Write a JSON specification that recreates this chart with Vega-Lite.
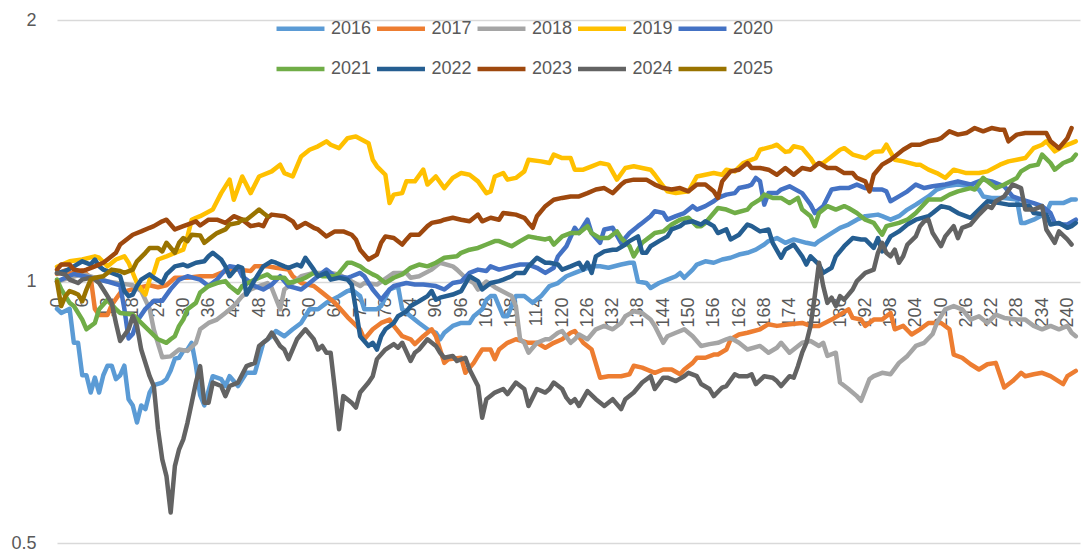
{
"$schema": "https://vega.github.io/schema/vega-lite/v6.json",
"width": 1023, "height": 523,
"autosize": {"type": "none"},
"padding": {"left": 57, "top": 20, "right": 6, "bottom": 8},
"background": "white",
"config": {"view": {"stroke": null}, "font": "Liberation Sans"},
"data": {"values": [
{"x":0,"s":"2016","v":0.93},{"x":1,"s":"2016","v":0.92},{"x":3,"s":"2016","v":0.93},{"x":4,"s":"2016","v":0.85},{"x":5,"s":"2016","v":0.85},{"x":6,"s":"2016","v":0.78},{"x":7,"s":"2016","v":0.78},{"x":8,"s":"2016","v":0.745},{"x":9,"s":"2016","v":0.775},{"x":10,"s":"2016","v":0.745},{"x":11,"s":"2016","v":0.78},{"x":12,"s":"2016","v":0.8},{"x":13,"s":"2016","v":0.8},{"x":14,"s":"2016","v":0.772},{"x":15,"s":"2016","v":0.78},{"x":16,"s":"2016","v":0.8},{"x":17,"s":"2016","v":0.732},{"x":18,"s":"2016","v":0.72},{"x":19,"s":"2016","v":0.688},{"x":20,"s":"2016","v":0.72},{"x":21,"s":"2016","v":0.713},{"x":22,"s":"2016","v":0.745},{"x":23,"s":"2016","v":0.76},{"x":25,"s":"2016","v":0.765},{"x":26,"s":"2016","v":0.772},{"x":27,"s":"2016","v":0.79},{"x":28,"s":"2016","v":0.815},{"x":29,"s":"2016","v":0.817},{"x":30,"s":"2016","v":0.832},{"x":31,"s":"2016","v":0.835},{"x":32,"s":"2016","v":0.85},{"x":33,"s":"2016","v":0.8},{"x":34,"s":"2016","v":0.74},{"x":35,"s":"2016","v":0.72},{"x":37,"s":"2016","v":0.778},{"x":39,"s":"2016","v":0.772},{"x":40,"s":"2016","v":0.758},{"x":41,"s":"2016","v":0.778},{"x":43,"s":"2016","v":0.758},{"x":45,"s":"2016","v":0.785},{"x":47,"s":"2016","v":0.785},{"x":49,"s":"2016","v":0.85},{"x":51,"s":"2016","v":0.865},{"x":52,"s":"2016","v":0.877},{"x":54,"s":"2016","v":0.865},{"x":56,"s":"2016","v":0.881},{"x":58,"s":"2016","v":0.896},{"x":60,"s":"2016","v":0.929},{"x":62,"s":"2016","v":0.929},{"x":64,"s":"2016","v":0.945},{"x":67,"s":"2016","v":0.962},{"x":69,"s":"2016","v":0.975},{"x":70,"s":"2016","v":0.979},{"x":72,"s":"2016","v":0.962},{"x":73,"s":"2016","v":0.929},{"x":76,"s":"2016","v":0.929},{"x":77,"s":"2016","v":0.937},{"x":79,"s":"2016","v":0.979},{"x":81,"s":"2016","v":0.988},{"x":82,"s":"2016","v":0.929},{"x":84,"s":"2016","v":0.912},{"x":86,"s":"2016","v":0.896},{"x":88,"s":"2016","v":0.881},{"x":90,"s":"2016","v":0.873},{"x":91,"s":"2016","v":0.858},{"x":92,"s":"2016","v":0.873},{"x":94,"s":"2016","v":0.889},{"x":96,"s":"2016","v":0.896},{"x":98,"s":"2016","v":0.896},{"x":99,"s":"2016","v":0.912},{"x":101,"s":"2016","v":0.929},{"x":102,"s":"2016","v":0.953},{"x":103,"s":"2016","v":0.962},{"x":104,"s":"2016","v":0.962},{"x":106,"s":"2016","v":0.912},{"x":107,"s":"2016","v":0.912},{"x":109,"s":"2016","v":0.962},{"x":111,"s":"2016","v":0.962},{"x":113,"s":"2016","v":0.945},{"x":115,"s":"2016","v":0.962},{"x":117,"s":"2016","v":0.988},{"x":119,"s":"2016","v":0.996},{"x":121,"s":"2016","v":1.014},{"x":123,"s":"2016","v":1.023},{"x":125,"s":"2016","v":1.032},{"x":127,"s":"2016","v":1.041},{"x":129,"s":"2016","v":1.041},{"x":131,"s":"2016","v":1.037},{"x":134,"s":"2016","v":1.046},{"x":136,"s":"2016","v":1.051},{"x":137,"s":"2016","v":1.051},{"x":138,"s":"2016","v":1.0},{"x":140,"s":"2016","v":0.996},{"x":141,"s":"2016","v":0.983},{"x":143,"s":"2016","v":0.996},{"x":145,"s":"2016","v":1.005},{"x":147,"s":"2016","v":1.014},{"x":148,"s":"2016","v":1.023},{"x":149,"s":"2016","v":1.01},{"x":151,"s":"2016","v":1.032},{"x":152,"s":"2016","v":1.046},{"x":154,"s":"2016","v":1.055},{"x":156,"s":"2016","v":1.051},{"x":158,"s":"2016","v":1.06},{"x":160,"s":"2016","v":1.065},{"x":162,"s":"2016","v":1.074},{"x":164,"s":"2016","v":1.079},{"x":166,"s":"2016","v":1.088},{"x":168,"s":"2016","v":1.103},{"x":169,"s":"2016","v":1.113},{"x":171,"s":"2016","v":1.122},{"x":173,"s":"2016","v":1.108},{"x":175,"s":"2016","v":1.118},{"x":178,"s":"2016","v":1.108},{"x":180,"s":"2016","v":1.103},{"x":181,"s":"2016","v":1.113},{"x":184,"s":"2016","v":1.137},{"x":186,"s":"2016","v":1.153},{"x":188,"s":"2016","v":1.163},{"x":190,"s":"2016","v":1.178},{"x":192,"s":"2016","v":1.189},{"x":195,"s":"2016","v":1.194},{"x":196,"s":"2016","v":1.189},{"x":198,"s":"2016","v":1.178},{"x":200,"s":"2016","v":1.189},{"x":202,"s":"2016","v":1.21},{"x":204,"s":"2016","v":1.226},{"x":207,"s":"2016","v":1.253},{"x":209,"s":"2016","v":1.276},{"x":211,"s":"2016","v":1.287},{"x":214,"s":"2016","v":1.293},{"x":217,"s":"2016","v":1.287},{"x":219,"s":"2016","v":1.276},{"x":220,"s":"2016","v":1.253},{"x":222,"s":"2016","v":1.248},{"x":225,"s":"2016","v":1.248},{"x":228,"s":"2016","v":1.243},{"x":229,"s":"2016","v":1.168},{"x":230,"s":"2016","v":1.168},{"x":232,"s":"2016","v":1.178},{"x":235,"s":"2016","v":1.199},{"x":236,"s":"2016","v":1.231},{"x":239,"s":"2016","v":1.231},{"x":241,"s":"2016","v":1.243},{"x":242,"s":"2016","v":1.243},
{"x":0,"s":"2017","v":1.02},{"x":2,"s":"2017","v":1.03},{"x":4,"s":"2017","v":1.02},{"x":6,"s":"2017","v":1.03},{"x":8,"s":"2017","v":1.01},{"x":9,"s":"2017","v":0.93},{"x":10,"s":"2017","v":0.915},{"x":12,"s":"2017","v":0.915},{"x":13,"s":"2017","v":0.94},{"x":15,"s":"2017","v":0.97},{"x":18,"s":"2017","v":0.98},{"x":22,"s":"2017","v":0.99},{"x":24,"s":"2017","v":0.985},{"x":26,"s":"2017","v":0.99},{"x":28,"s":"2017","v":1.01},{"x":31,"s":"2017","v":1.01},{"x":34,"s":"2017","v":1.014},{"x":37,"s":"2017","v":1.014},{"x":39,"s":"2017","v":1.023},{"x":41,"s":"2017","v":1.032},{"x":43,"s":"2017","v":1.032},{"x":46,"s":"2017","v":1.028},{"x":47,"s":"2017","v":1.041},{"x":50,"s":"2017","v":1.041},{"x":52,"s":"2017","v":1.037},{"x":55,"s":"2017","v":1.032},{"x":56,"s":"2017","v":1.014},{"x":58,"s":"2017","v":0.996},{"x":61,"s":"2017","v":0.988},{"x":63,"s":"2017","v":0.971},{"x":66,"s":"2017","v":0.945},{"x":69,"s":"2017","v":0.91},{"x":72,"s":"2017","v":0.881},{"x":73,"s":"2017","v":0.858},{"x":75,"s":"2017","v":0.881},{"x":77,"s":"2017","v":0.896},{"x":79,"s":"2017","v":0.904},{"x":80,"s":"2017","v":0.889},{"x":82,"s":"2017","v":0.865},{"x":84,"s":"2017","v":0.858},{"x":85,"s":"2017","v":0.847},{"x":87,"s":"2017","v":0.865},{"x":89,"s":"2017","v":0.881},{"x":90,"s":"2017","v":0.865},{"x":92,"s":"2017","v":0.806},{"x":93,"s":"2017","v":0.814},{"x":96,"s":"2017","v":0.817},{"x":97,"s":"2017","v":0.785},{"x":99,"s":"2017","v":0.806},{"x":100,"s":"2017","v":0.821},{"x":101,"s":"2017","v":0.835},{"x":103,"s":"2017","v":0.835},{"x":104,"s":"2017","v":0.814},{"x":105,"s":"2017","v":0.835},{"x":107,"s":"2017","v":0.85},{"x":109,"s":"2017","v":0.858},{"x":112,"s":"2017","v":0.85},{"x":114,"s":"2017","v":0.85},{"x":116,"s":"2017","v":0.839},{"x":118,"s":"2017","v":0.85},{"x":120,"s":"2017","v":0.858},{"x":122,"s":"2017","v":0.873},{"x":123,"s":"2017","v":0.877},{"x":125,"s":"2017","v":0.85},{"x":127,"s":"2017","v":0.835},{"x":129,"s":"2017","v":0.775},{"x":131,"s":"2017","v":0.778},{"x":134,"s":"2017","v":0.778},{"x":136,"s":"2017","v":0.782},{"x":137,"s":"2017","v":0.8},{"x":139,"s":"2017","v":0.796},{"x":142,"s":"2017","v":0.785},{"x":144,"s":"2017","v":0.792},{"x":146,"s":"2017","v":0.792},{"x":148,"s":"2017","v":0.782},{"x":149,"s":"2017","v":0.792},{"x":151,"s":"2017","v":0.806},{"x":152,"s":"2017","v":0.817},{"x":154,"s":"2017","v":0.817},{"x":156,"s":"2017","v":0.824},{"x":157,"s":"2017","v":0.824},{"x":159,"s":"2017","v":0.835},{"x":160,"s":"2017","v":0.858},{"x":162,"s":"2017","v":0.869},{"x":164,"s":"2017","v":0.873},{"x":167,"s":"2017","v":0.881},{"x":169,"s":"2017","v":0.893},{"x":171,"s":"2017","v":0.889},{"x":174,"s":"2017","v":0.893},{"x":177,"s":"2017","v":0.896},{"x":179,"s":"2017","v":0.889},{"x":181,"s":"2017","v":0.889},{"x":184,"s":"2017","v":0.904},{"x":186,"s":"2017","v":0.916},{"x":188,"s":"2017","v":0.929},{"x":189,"s":"2017","v":0.908},{"x":191,"s":"2017","v":0.904},{"x":192,"s":"2017","v":0.889},{"x":194,"s":"2017","v":0.904},{"x":196,"s":"2017","v":0.904},{"x":198,"s":"2017","v":0.92},{"x":199,"s":"2017","v":0.881},{"x":201,"s":"2017","v":0.889},{"x":203,"s":"2017","v":0.869},{"x":205,"s":"2017","v":0.881},{"x":207,"s":"2017","v":0.896},{"x":209,"s":"2017","v":0.896},{"x":210,"s":"2017","v":0.896},{"x":212,"s":"2017","v":0.881},{"x":213,"s":"2017","v":0.824},{"x":215,"s":"2017","v":0.817},{"x":217,"s":"2017","v":0.803},{"x":219,"s":"2017","v":0.792},{"x":221,"s":"2017","v":0.803},{"x":223,"s":"2017","v":0.806},{"x":225,"s":"2017","v":0.755},{"x":227,"s":"2017","v":0.768},{"x":229,"s":"2017","v":0.785},{"x":230,"s":"2017","v":0.778},{"x":232,"s":"2017","v":0.782},{"x":234,"s":"2017","v":0.785},{"x":236,"s":"2017","v":0.778},{"x":239,"s":"2017","v":0.762},{"x":240,"s":"2017","v":0.778},{"x":242,"s":"2017","v":0.789},
{"x":0,"s":"2018","v":1.0},{"x":3,"s":"2018","v":1.01},{"x":6,"s":"2018","v":1.02},{"x":9,"s":"2018","v":1.01},{"x":12,"s":"2018","v":1.0},{"x":15,"s":"2018","v":0.995},{"x":18,"s":"2018","v":0.99},{"x":20,"s":"2018","v":0.975},{"x":22,"s":"2018","v":0.93},{"x":23,"s":"2018","v":0.88},{"x":25,"s":"2018","v":0.818},{"x":27,"s":"2018","v":0.82},{"x":29,"s":"2018","v":0.835},{"x":31,"s":"2018","v":0.832},{"x":33,"s":"2018","v":0.85},{"x":34,"s":"2018","v":0.881},{"x":36,"s":"2018","v":0.896},{"x":38,"s":"2018","v":0.904},{"x":40,"s":"2018","v":0.92},{"x":42,"s":"2018","v":0.937},{"x":44,"s":"2018","v":0.962},{"x":46,"s":"2018","v":0.979},{"x":48,"s":"2018","v":0.988},{"x":50,"s":"2018","v":0.996},{"x":51,"s":"2018","v":0.983},{"x":53,"s":"2018","v":0.929},{"x":54,"s":"2018","v":0.979},{"x":56,"s":"2018","v":0.996},{"x":58,"s":"2018","v":1.014},{"x":61,"s":"2018","v":1.023},{"x":65,"s":"2018","v":1.023},{"x":67,"s":"2018","v":1.019},{"x":70,"s":"2018","v":1.0},{"x":72,"s":"2018","v":0.988},{"x":73,"s":"2018","v":0.996},{"x":76,"s":"2018","v":0.992},{"x":80,"s":"2018","v":1.023},{"x":83,"s":"2018","v":1.023},{"x":84,"s":"2018","v":1.01},{"x":86,"s":"2018","v":1.014},{"x":89,"s":"2018","v":1.032},{"x":91,"s":"2018","v":1.051},{"x":94,"s":"2018","v":1.041},{"x":95,"s":"2018","v":1.032},{"x":97,"s":"2018","v":1.01},{"x":99,"s":"2018","v":0.996},{"x":100,"s":"2018","v":0.979},{"x":102,"s":"2018","v":1.0},{"x":104,"s":"2018","v":0.985},{"x":105,"s":"2018","v":0.979},{"x":108,"s":"2018","v":0.962},{"x":109,"s":"2018","v":0.937},{"x":110,"s":"2018","v":0.858},{"x":111,"s":"2018","v":0.85},{"x":112,"s":"2018","v":0.828},{"x":114,"s":"2018","v":0.85},{"x":116,"s":"2018","v":0.858},{"x":117,"s":"2018","v":0.858},{"x":119,"s":"2018","v":0.873},{"x":120,"s":"2018","v":0.877},{"x":122,"s":"2018","v":0.85},{"x":123,"s":"2018","v":0.858},{"x":124,"s":"2018","v":0.869},{"x":126,"s":"2018","v":0.858},{"x":128,"s":"2018","v":0.881},{"x":130,"s":"2018","v":0.889},{"x":132,"s":"2018","v":0.881},{"x":134,"s":"2018","v":0.896},{"x":135,"s":"2018","v":0.912},{"x":137,"s":"2018","v":0.924},{"x":139,"s":"2018","v":0.92},{"x":141,"s":"2018","v":0.904},{"x":142,"s":"2018","v":0.889},{"x":144,"s":"2018","v":0.85},{"x":145,"s":"2018","v":0.865},{"x":147,"s":"2018","v":0.873},{"x":149,"s":"2018","v":0.881},{"x":151,"s":"2018","v":0.865},{"x":153,"s":"2018","v":0.843},{"x":155,"s":"2018","v":0.847},{"x":157,"s":"2018","v":0.85},{"x":159,"s":"2018","v":0.858},{"x":160,"s":"2018","v":0.861},{"x":162,"s":"2018","v":0.85},{"x":164,"s":"2018","v":0.835},{"x":167,"s":"2018","v":0.843},{"x":169,"s":"2018","v":0.828},{"x":171,"s":"2018","v":0.839},{"x":172,"s":"2018","v":0.85},{"x":174,"s":"2018","v":0.828},{"x":177,"s":"2018","v":0.85},{"x":179,"s":"2018","v":0.854},{"x":181,"s":"2018","v":0.843},{"x":182,"s":"2018","v":0.85},{"x":183,"s":"2018","v":0.821},{"x":185,"s":"2018","v":0.828},{"x":186,"s":"2018","v":0.765},{"x":188,"s":"2018","v":0.752},{"x":190,"s":"2018","v":0.738},{"x":191,"s":"2018","v":0.729},{"x":193,"s":"2018","v":0.772},{"x":194,"s":"2018","v":0.778},{"x":196,"s":"2018","v":0.785},{"x":198,"s":"2018","v":0.782},{"x":200,"s":"2018","v":0.806},{"x":202,"s":"2018","v":0.821},{"x":204,"s":"2018","v":0.843},{"x":206,"s":"2018","v":0.85},{"x":208,"s":"2018","v":0.87},{"x":209,"s":"2018","v":0.896},{"x":211,"s":"2018","v":0.929},{"x":213,"s":"2018","v":0.937},{"x":215,"s":"2018","v":0.929},{"x":217,"s":"2018","v":0.904},{"x":219,"s":"2018","v":0.912},{"x":221,"s":"2018","v":0.896},{"x":223,"s":"2018","v":0.916},{"x":225,"s":"2018","v":0.908},{"x":228,"s":"2018","v":0.904},{"x":230,"s":"2018","v":0.904},{"x":232,"s":"2018","v":0.889},{"x":234,"s":"2018","v":0.881},{"x":236,"s":"2018","v":0.889},{"x":238,"s":"2018","v":0.881},{"x":240,"s":"2018","v":0.889},{"x":241,"s":"2018","v":0.873},{"x":242,"s":"2018","v":0.865},
{"x":0,"s":"2019","v":1.04},{"x":3,"s":"2019","v":1.055},{"x":6,"s":"2019","v":1.06},{"x":9,"s":"2019","v":1.069},{"x":10,"s":"2019","v":1.065},{"x":12,"s":"2019","v":1.041},{"x":14,"s":"2019","v":1.06},{"x":16,"s":"2019","v":1.069},{"x":17,"s":"2019","v":1.051},{"x":19,"s":"2019","v":0.996},{"x":20,"s":"2019","v":0.979},{"x":21,"s":"2019","v":0.966},{"x":22,"s":"2019","v":1.005},{"x":23,"s":"2019","v":1.023},{"x":24,"s":"2019","v":1.06},{"x":26,"s":"2019","v":1.069},{"x":28,"s":"2019","v":1.079},{"x":30,"s":"2019","v":1.088},{"x":31,"s":"2019","v":1.127},{"x":32,"s":"2019","v":1.178},{"x":33,"s":"2019","v":1.184},{"x":34,"s":"2019","v":1.189},{"x":37,"s":"2019","v":1.21},{"x":39,"s":"2019","v":1.264},{"x":41,"s":"2019","v":1.31},{"x":42,"s":"2019","v":1.242},{"x":44,"s":"2019","v":1.321},{"x":46,"s":"2019","v":1.264},{"x":48,"s":"2019","v":1.321},{"x":51,"s":"2019","v":1.339},{"x":53,"s":"2019","v":1.363},{"x":54,"s":"2019","v":1.333},{"x":56,"s":"2019","v":1.321},{"x":58,"s":"2019","v":1.393},{"x":60,"s":"2019","v":1.418},{"x":62,"s":"2019","v":1.431},{"x":64,"s":"2019","v":1.45},{"x":65,"s":"2019","v":1.437},{"x":67,"s":"2019","v":1.424},{"x":69,"s":"2019","v":1.462},{"x":71,"s":"2019","v":1.469},{"x":74,"s":"2019","v":1.443},{"x":75,"s":"2019","v":1.381},{"x":76,"s":"2019","v":1.357},{"x":78,"s":"2019","v":1.327},{"x":79,"s":"2019","v":1.231},{"x":80,"s":"2019","v":1.259},{"x":82,"s":"2019","v":1.264},{"x":83,"s":"2019","v":1.304},{"x":85,"s":"2019","v":1.304},{"x":87,"s":"2019","v":1.345},{"x":88,"s":"2019","v":1.293},{"x":90,"s":"2019","v":1.321},{"x":92,"s":"2019","v":1.281},{"x":94,"s":"2019","v":1.316},{"x":96,"s":"2019","v":1.333},{"x":98,"s":"2019","v":1.327},{"x":100,"s":"2019","v":1.304},{"x":102,"s":"2019","v":1.264},{"x":103,"s":"2019","v":1.27},{"x":104,"s":"2019","v":1.321},{"x":106,"s":"2019","v":1.333},{"x":107,"s":"2019","v":1.31},{"x":109,"s":"2019","v":1.316},{"x":111,"s":"2019","v":1.339},{"x":112,"s":"2019","v":1.381},{"x":115,"s":"2019","v":1.375},{"x":117,"s":"2019","v":1.369},{"x":118,"s":"2019","v":1.4},{"x":120,"s":"2019","v":1.387},{"x":122,"s":"2019","v":1.387},{"x":123,"s":"2019","v":1.345},{"x":125,"s":"2019","v":1.345},{"x":127,"s":"2019","v":1.357},{"x":129,"s":"2019","v":1.369},{"x":131,"s":"2019","v":1.363},{"x":133,"s":"2019","v":1.31},{"x":135,"s":"2019","v":1.351},{"x":137,"s":"2019","v":1.357},{"x":139,"s":"2019","v":1.351},{"x":141,"s":"2019","v":1.345},{"x":142,"s":"2019","v":1.327},{"x":144,"s":"2019","v":1.287},{"x":145,"s":"2019","v":1.27},{"x":147,"s":"2019","v":1.264},{"x":150,"s":"2019","v":1.27},{"x":152,"s":"2019","v":1.321},{"x":154,"s":"2019","v":1.327},{"x":156,"s":"2019","v":1.333},{"x":158,"s":"2019","v":1.327},{"x":159,"s":"2019","v":1.345},{"x":161,"s":"2019","v":1.339},{"x":163,"s":"2019","v":1.369},{"x":166,"s":"2019","v":1.387},{"x":167,"s":"2019","v":1.418},{"x":170,"s":"2019","v":1.431},{"x":171,"s":"2019","v":1.437},{"x":173,"s":"2019","v":1.41},{"x":174,"s":"2019","v":1.412},{"x":175,"s":"2019","v":1.431},{"x":177,"s":"2019","v":1.424},{"x":179,"s":"2019","v":1.387},{"x":180,"s":"2019","v":1.363},{"x":182,"s":"2019","v":1.369},{"x":184,"s":"2019","v":1.393},{"x":186,"s":"2019","v":1.418},{"x":187,"s":"2019","v":1.424},{"x":189,"s":"2019","v":1.4},{"x":192,"s":"2019","v":1.387},{"x":194,"s":"2019","v":1.41},{"x":196,"s":"2019","v":1.412},{"x":197,"s":"2019","v":1.437},{"x":199,"s":"2019","v":1.381},{"x":201,"s":"2019","v":1.375},{"x":204,"s":"2019","v":1.363},{"x":205,"s":"2019","v":1.363},{"x":207,"s":"2019","v":1.345},{"x":209,"s":"2019","v":1.333},{"x":211,"s":"2019","v":1.316},{"x":213,"s":"2019","v":1.345},{"x":216,"s":"2019","v":1.333},{"x":219,"s":"2019","v":1.333},{"x":221,"s":"2019","v":1.339},{"x":224,"s":"2019","v":1.363},{"x":226,"s":"2019","v":1.375},{"x":228,"s":"2019","v":1.381},{"x":230,"s":"2019","v":1.387},{"x":232,"s":"2019","v":1.424},{"x":234,"s":"2019","v":1.437},{"x":235,"s":"2019","v":1.45},{"x":237,"s":"2019","v":1.412},{"x":239,"s":"2019","v":1.431},{"x":241,"s":"2019","v":1.443},{"x":242,"s":"2019","v":1.45},
{"x":0,"s":"2020","v":1.0},{"x":4,"s":"2020","v":1.02},{"x":8,"s":"2020","v":1.01},{"x":12,"s":"2020","v":1.0},{"x":15,"s":"2020","v":0.99},{"x":16,"s":"2020","v":0.93},{"x":17,"s":"2020","v":0.86},{"x":18,"s":"2020","v":0.87},{"x":19,"s":"2020","v":0.9},{"x":21,"s":"2020","v":0.93},{"x":23,"s":"2020","v":0.95},{"x":25,"s":"2020","v":0.95},{"x":27,"s":"2020","v":0.98},{"x":29,"s":"2020","v":1.005},{"x":31,"s":"2020","v":1.014},{"x":34,"s":"2020","v":1.005},{"x":36,"s":"2020","v":0.988},{"x":38,"s":"2020","v":1.005},{"x":40,"s":"2020","v":1.032},{"x":41,"s":"2020","v":1.041},{"x":43,"s":"2020","v":1.037},{"x":44,"s":"2020","v":1.014},{"x":47,"s":"2020","v":0.988},{"x":49,"s":"2020","v":0.979},{"x":51,"s":"2020","v":0.992},{"x":53,"s":"2020","v":1.014},{"x":55,"s":"2020","v":0.988},{"x":58,"s":"2020","v":0.979},{"x":60,"s":"2020","v":0.996},{"x":62,"s":"2020","v":1.014},{"x":64,"s":"2020","v":1.032},{"x":66,"s":"2020","v":1.014},{"x":69,"s":"2020","v":1.01},{"x":70,"s":"2020","v":1.014},{"x":72,"s":"2020","v":1.023},{"x":73,"s":"2020","v":1.014},{"x":75,"s":"2020","v":0.979},{"x":77,"s":"2020","v":0.953},{"x":79,"s":"2020","v":0.979},{"x":80,"s":"2020","v":0.988},{"x":83,"s":"2020","v":0.996},{"x":85,"s":"2020","v":0.992},{"x":87,"s":"2020","v":0.992},{"x":90,"s":"2020","v":0.988},{"x":92,"s":"2020","v":0.979},{"x":94,"s":"2020","v":0.996},{"x":96,"s":"2020","v":1.0},{"x":98,"s":"2020","v":1.023},{"x":100,"s":"2020","v":1.032},{"x":102,"s":"2020","v":1.028},{"x":103,"s":"2020","v":1.041},{"x":105,"s":"2020","v":1.032},{"x":108,"s":"2020","v":1.041},{"x":110,"s":"2020","v":1.046},{"x":112,"s":"2020","v":1.046},{"x":114,"s":"2020","v":1.037},{"x":116,"s":"2020","v":1.023},{"x":118,"s":"2020","v":1.037},{"x":119,"s":"2020","v":1.069},{"x":121,"s":"2020","v":1.098},{"x":123,"s":"2020","v":1.153},{"x":124,"s":"2020","v":1.137},{"x":126,"s":"2020","v":1.178},{"x":127,"s":"2020","v":1.137},{"x":129,"s":"2020","v":1.108},{"x":130,"s":"2020","v":1.148},{"x":132,"s":"2020","v":1.153},{"x":134,"s":"2020","v":1.108},{"x":136,"s":"2020","v":1.137},{"x":138,"s":"2020","v":1.158},{"x":139,"s":"2020","v":1.168},{"x":141,"s":"2020","v":1.189},{"x":142,"s":"2020","v":1.205},{"x":144,"s":"2020","v":1.199},{"x":145,"s":"2020","v":1.178},{"x":147,"s":"2020","v":1.189},{"x":149,"s":"2020","v":1.199},{"x":151,"s":"2020","v":1.221},{"x":152,"s":"2020","v":1.21},{"x":154,"s":"2020","v":1.221},{"x":156,"s":"2020","v":1.237},{"x":157,"s":"2020","v":1.248},{"x":159,"s":"2020","v":1.259},{"x":161,"s":"2020","v":1.264},{"x":162,"s":"2020","v":1.281},{"x":164,"s":"2020","v":1.287},{"x":165,"s":"2020","v":1.293},{"x":166,"s":"2020","v":1.316},{"x":167,"s":"2020","v":1.304},{"x":168,"s":"2020","v":1.226},{"x":169,"s":"2020","v":1.264},{"x":171,"s":"2020","v":1.264},{"x":172,"s":"2020","v":1.276},{"x":174,"s":"2020","v":1.287},{"x":177,"s":"2020","v":1.264},{"x":179,"s":"2020","v":1.226},{"x":180,"s":"2020","v":1.199},{"x":182,"s":"2020","v":1.221},{"x":184,"s":"2020","v":1.276},{"x":186,"s":"2020","v":1.281},{"x":188,"s":"2020","v":1.281},{"x":190,"s":"2020","v":1.293},{"x":192,"s":"2020","v":1.281},{"x":194,"s":"2020","v":1.276},{"x":196,"s":"2020","v":1.276},{"x":197,"s":"2020","v":1.27},{"x":198,"s":"2020","v":1.237},{"x":200,"s":"2020","v":1.253},{"x":202,"s":"2020","v":1.27},{"x":204,"s":"2020","v":1.293},{"x":206,"s":"2020","v":1.281},{"x":208,"s":"2020","v":1.287},{"x":211,"s":"2020","v":1.293},{"x":214,"s":"2020","v":1.304},{"x":217,"s":"2020","v":1.293},{"x":220,"s":"2020","v":1.31},{"x":222,"s":"2020","v":1.304},{"x":225,"s":"2020","v":1.287},{"x":227,"s":"2020","v":1.253},{"x":229,"s":"2020","v":1.243},{"x":232,"s":"2020","v":1.231},{"x":234,"s":"2020","v":1.221},{"x":236,"s":"2020","v":1.199},{"x":237,"s":"2020","v":1.168},{"x":239,"s":"2020","v":1.163},{"x":240,"s":"2020","v":1.163},{"x":242,"s":"2020","v":1.178},
{"x":0,"s":"2021","v":1.005},{"x":1,"s":"2021","v":0.98},{"x":3,"s":"2021","v":0.945},{"x":4,"s":"2021","v":0.937},{"x":6,"s":"2021","v":0.904},{"x":7,"s":"2021","v":0.881},{"x":9,"s":"2021","v":0.896},{"x":10,"s":"2021","v":0.929},{"x":12,"s":"2021","v":0.953},{"x":14,"s":"2021","v":0.929},{"x":15,"s":"2021","v":0.92},{"x":18,"s":"2021","v":0.916},{"x":20,"s":"2021","v":0.896},{"x":22,"s":"2021","v":0.877},{"x":24,"s":"2021","v":0.858},{"x":26,"s":"2021","v":0.85},{"x":27,"s":"2021","v":0.858},{"x":28,"s":"2021","v":0.865},{"x":29,"s":"2021","v":0.889},{"x":30,"s":"2021","v":0.904},{"x":31,"s":"2021","v":0.929},{"x":33,"s":"2021","v":0.945},{"x":34,"s":"2021","v":0.971},{"x":36,"s":"2021","v":0.988},{"x":38,"s":"2021","v":0.996},{"x":40,"s":"2021","v":1.001},{"x":41,"s":"2021","v":0.988},{"x":43,"s":"2021","v":0.971},{"x":44,"s":"2021","v":0.988},{"x":47,"s":"2021","v":1.005},{"x":48,"s":"2021","v":1.01},{"x":50,"s":"2021","v":1.019},{"x":51,"s":"2021","v":1.01},{"x":54,"s":"2021","v":1.01},{"x":55,"s":"2021","v":0.996},{"x":58,"s":"2021","v":1.005},{"x":59,"s":"2021","v":1.01},{"x":61,"s":"2021","v":1.023},{"x":63,"s":"2021","v":1.014},{"x":66,"s":"2021","v":1.014},{"x":67,"s":"2021","v":1.023},{"x":69,"s":"2021","v":1.051},{"x":70,"s":"2021","v":1.051},{"x":72,"s":"2021","v":1.041},{"x":73,"s":"2021","v":1.032},{"x":75,"s":"2021","v":1.019},{"x":76,"s":"2021","v":1.014},{"x":78,"s":"2021","v":0.996},{"x":80,"s":"2021","v":1.01},{"x":82,"s":"2021","v":1.019},{"x":84,"s":"2021","v":1.037},{"x":86,"s":"2021","v":1.046},{"x":88,"s":"2021","v":1.041},{"x":90,"s":"2021","v":1.051},{"x":92,"s":"2021","v":1.065},{"x":95,"s":"2021","v":1.069},{"x":96,"s":"2021","v":1.079},{"x":98,"s":"2021","v":1.088},{"x":100,"s":"2021","v":1.093},{"x":102,"s":"2021","v":1.103},{"x":104,"s":"2021","v":1.113},{"x":105,"s":"2021","v":1.113},{"x":108,"s":"2021","v":1.098},{"x":110,"s":"2021","v":1.113},{"x":112,"s":"2021","v":1.127},{"x":114,"s":"2021","v":1.122},{"x":116,"s":"2021","v":1.118},{"x":117,"s":"2021","v":1.122},{"x":118,"s":"2021","v":1.103},{"x":120,"s":"2021","v":1.127},{"x":122,"s":"2021","v":1.137},{"x":124,"s":"2021","v":1.137},{"x":126,"s":"2021","v":1.158},{"x":127,"s":"2021","v":1.137},{"x":129,"s":"2021","v":1.122},{"x":131,"s":"2021","v":1.122},{"x":133,"s":"2021","v":1.142},{"x":134,"s":"2021","v":1.122},{"x":136,"s":"2021","v":1.098},{"x":137,"s":"2021","v":1.069},{"x":139,"s":"2021","v":1.108},{"x":141,"s":"2021","v":1.127},{"x":142,"s":"2021","v":1.137},{"x":144,"s":"2021","v":1.142},{"x":146,"s":"2021","v":1.163},{"x":148,"s":"2021","v":1.178},{"x":150,"s":"2021","v":1.184},{"x":152,"s":"2021","v":1.158},{"x":153,"s":"2021","v":1.158},{"x":154,"s":"2021","v":1.168},{"x":156,"s":"2021","v":1.199},{"x":157,"s":"2021","v":1.215},{"x":159,"s":"2021","v":1.21},{"x":161,"s":"2021","v":1.199},{"x":164,"s":"2021","v":1.21},{"x":165,"s":"2021","v":1.226},{"x":167,"s":"2021","v":1.243},{"x":168,"s":"2021","v":1.259},{"x":170,"s":"2021","v":1.248},{"x":172,"s":"2021","v":1.248},{"x":174,"s":"2021","v":1.231},{"x":176,"s":"2021","v":1.248},{"x":177,"s":"2021","v":1.21},{"x":179,"s":"2021","v":1.189},{"x":180,"s":"2021","v":1.158},{"x":181,"s":"2021","v":1.199},{"x":183,"s":"2021","v":1.221},{"x":185,"s":"2021","v":1.21},{"x":187,"s":"2021","v":1.221},{"x":188,"s":"2021","v":1.215},{"x":190,"s":"2021","v":1.199},{"x":192,"s":"2021","v":1.178},{"x":194,"s":"2021","v":1.168},{"x":196,"s":"2021","v":1.132},{"x":197,"s":"2021","v":1.158},{"x":200,"s":"2021","v":1.168},{"x":202,"s":"2021","v":1.178},{"x":204,"s":"2021","v":1.199},{"x":207,"s":"2021","v":1.243},{"x":210,"s":"2021","v":1.243},{"x":212,"s":"2021","v":1.259},{"x":214,"s":"2021","v":1.27},{"x":217,"s":"2021","v":1.281},{"x":218,"s":"2021","v":1.276},{"x":220,"s":"2021","v":1.316},{"x":221,"s":"2021","v":1.304},{"x":223,"s":"2021","v":1.281},{"x":225,"s":"2021","v":1.293},{"x":228,"s":"2021","v":1.316},{"x":229,"s":"2021","v":1.339},{"x":231,"s":"2021","v":1.357},{"x":233,"s":"2021","v":1.363},{"x":234,"s":"2021","v":1.4},{"x":236,"s":"2021","v":1.369},{"x":237,"s":"2021","v":1.345},{"x":239,"s":"2021","v":1.369},{"x":241,"s":"2021","v":1.381},{"x":242,"s":"2021","v":1.4},
{"x":0,"s":"2022","v":1.023},{"x":2,"s":"2022","v":1.028},{"x":4,"s":"2022","v":1.041},{"x":6,"s":"2022","v":1.055},{"x":8,"s":"2022","v":1.046},{"x":9,"s":"2022","v":1.06},{"x":10,"s":"2022","v":1.041},{"x":11,"s":"2022","v":1.032},{"x":13,"s":"2022","v":1.023},{"x":15,"s":"2022","v":1.014},{"x":16,"s":"2022","v":0.975},{"x":17,"s":"2022","v":0.962},{"x":18,"s":"2022","v":0.966},{"x":19,"s":"2022","v":0.988},{"x":20,"s":"2022","v":1.005},{"x":22,"s":"2022","v":1.019},{"x":23,"s":"2022","v":1.01},{"x":25,"s":"2022","v":0.996},{"x":26,"s":"2022","v":1.019},{"x":28,"s":"2022","v":1.041},{"x":30,"s":"2022","v":1.046},{"x":31,"s":"2022","v":1.041},{"x":33,"s":"2022","v":1.051},{"x":35,"s":"2022","v":1.055},{"x":36,"s":"2022","v":1.069},{"x":37,"s":"2022","v":1.079},{"x":39,"s":"2022","v":1.06},{"x":40,"s":"2022","v":1.041},{"x":41,"s":"2022","v":1.014},{"x":43,"s":"2022","v":1.041},{"x":44,"s":"2022","v":1.037},{"x":45,"s":"2022","v":0.966},{"x":47,"s":"2022","v":1.005},{"x":49,"s":"2022","v":1.041},{"x":51,"s":"2022","v":1.055},{"x":52,"s":"2022","v":1.051},{"x":54,"s":"2022","v":1.041},{"x":55,"s":"2022","v":1.037},{"x":57,"s":"2022","v":1.046},{"x":58,"s":"2022","v":1.041},{"x":59,"s":"2022","v":1.065},{"x":61,"s":"2022","v":1.032},{"x":62,"s":"2022","v":1.014},{"x":64,"s":"2022","v":1.023},{"x":65,"s":"2022","v":1.005},{"x":67,"s":"2022","v":1.01},{"x":69,"s":"2022","v":1.005},{"x":70,"s":"2022","v":0.992},{"x":71,"s":"2022","v":0.929},{"x":72,"s":"2022","v":0.865},{"x":74,"s":"2022","v":0.843},{"x":75,"s":"2022","v":0.85},{"x":76,"s":"2022","v":0.835},{"x":77,"s":"2022","v":0.865},{"x":78,"s":"2022","v":0.881},{"x":80,"s":"2022","v":0.896},{"x":81,"s":"2022","v":0.912},{"x":83,"s":"2022","v":0.924},{"x":84,"s":"2022","v":0.937},{"x":86,"s":"2022","v":0.949},{"x":88,"s":"2022","v":0.962},{"x":89,"s":"2022","v":0.975},{"x":90,"s":"2022","v":0.953},{"x":91,"s":"2022","v":0.958},{"x":94,"s":"2022","v":0.966},{"x":96,"s":"2022","v":0.975},{"x":98,"s":"2022","v":1.014},{"x":100,"s":"2022","v":1.001},{"x":101,"s":"2022","v":0.979},{"x":103,"s":"2022","v":0.996},{"x":105,"s":"2022","v":1.001},{"x":106,"s":"2022","v":1.005},{"x":108,"s":"2022","v":1.014},{"x":109,"s":"2022","v":1.023},{"x":111,"s":"2022","v":1.023},{"x":112,"s":"2022","v":1.041},{"x":114,"s":"2022","v":1.065},{"x":116,"s":"2022","v":1.051},{"x":117,"s":"2022","v":1.051},{"x":119,"s":"2022","v":1.046},{"x":120,"s":"2022","v":1.032},{"x":122,"s":"2022","v":1.041},{"x":124,"s":"2022","v":1.051},{"x":125,"s":"2022","v":1.032},{"x":126,"s":"2022","v":1.051},{"x":127,"s":"2022","v":1.023},{"x":128,"s":"2022","v":1.069},{"x":130,"s":"2022","v":1.083},{"x":132,"s":"2022","v":1.088},{"x":133,"s":"2022","v":1.088},{"x":135,"s":"2022","v":1.103},{"x":136,"s":"2022","v":1.113},{"x":138,"s":"2022","v":1.127},{"x":139,"s":"2022","v":1.079},{"x":140,"s":"2022","v":1.079},{"x":141,"s":"2022","v":1.098},{"x":143,"s":"2022","v":1.113},{"x":145,"s":"2022","v":1.127},{"x":146,"s":"2022","v":1.148},{"x":148,"s":"2022","v":1.158},{"x":149,"s":"2022","v":1.168},{"x":151,"s":"2022","v":1.173},{"x":153,"s":"2022","v":1.163},{"x":154,"s":"2022","v":1.173},{"x":156,"s":"2022","v":1.158},{"x":157,"s":"2022","v":1.137},{"x":159,"s":"2022","v":1.148},{"x":160,"s":"2022","v":1.118},{"x":162,"s":"2022","v":1.132},{"x":164,"s":"2022","v":1.163},{"x":165,"s":"2022","v":1.158},{"x":167,"s":"2022","v":1.142},{"x":169,"s":"2022","v":1.148},{"x":170,"s":"2022","v":1.108},{"x":172,"s":"2022","v":1.065},{"x":173,"s":"2022","v":1.088},{"x":175,"s":"2022","v":1.103},{"x":177,"s":"2022","v":1.069},{"x":178,"s":"2022","v":1.046},{"x":179,"s":"2022","v":1.069},{"x":181,"s":"2022","v":1.046},{"x":182,"s":"2022","v":1.023},{"x":184,"s":"2022","v":1.037},{"x":185,"s":"2022","v":1.069},{"x":187,"s":"2022","v":1.098},{"x":189,"s":"2022","v":1.122},{"x":191,"s":"2022","v":1.118},{"x":192,"s":"2022","v":1.118},{"x":194,"s":"2022","v":1.093},{"x":195,"s":"2022","v":1.122},{"x":196,"s":"2022","v":1.083},{"x":198,"s":"2022","v":1.127},{"x":200,"s":"2022","v":1.142},{"x":202,"s":"2022","v":1.163},{"x":204,"s":"2022","v":1.178},{"x":207,"s":"2022","v":1.189},{"x":208,"s":"2022","v":1.199},{"x":210,"s":"2022","v":1.221},{"x":212,"s":"2022","v":1.215},{"x":214,"s":"2022","v":1.199},{"x":217,"s":"2022","v":1.184},{"x":219,"s":"2022","v":1.21},{"x":221,"s":"2022","v":1.237},{"x":224,"s":"2022","v":1.231},{"x":226,"s":"2022","v":1.226},{"x":229,"s":"2022","v":1.226},{"x":231,"s":"2022","v":1.221},{"x":232,"s":"2022","v":1.199},{"x":235,"s":"2022","v":1.194},{"x":236,"s":"2022","v":1.163},{"x":238,"s":"2022","v":1.168},{"x":240,"s":"2022","v":1.153},{"x":241,"s":"2022","v":1.158},{"x":242,"s":"2022","v":1.168},
{"x":0,"s":"2023","v":1.032},{"x":1,"s":"2023","v":1.046},{"x":3,"s":"2023","v":1.046},{"x":4,"s":"2023","v":1.032},{"x":6,"s":"2023","v":1.028},{"x":7,"s":"2023","v":1.032},{"x":9,"s":"2023","v":1.041},{"x":11,"s":"2023","v":1.051},{"x":12,"s":"2023","v":1.06},{"x":14,"s":"2023","v":1.079},{"x":15,"s":"2023","v":1.103},{"x":17,"s":"2023","v":1.122},{"x":18,"s":"2023","v":1.132},{"x":20,"s":"2023","v":1.142},{"x":22,"s":"2023","v":1.153},{"x":23,"s":"2023","v":1.158},{"x":25,"s":"2023","v":1.173},{"x":26,"s":"2023","v":1.178},{"x":28,"s":"2023","v":1.148},{"x":30,"s":"2023","v":1.158},{"x":31,"s":"2023","v":1.163},{"x":33,"s":"2023","v":1.173},{"x":34,"s":"2023","v":1.16},{"x":36,"s":"2023","v":1.178},{"x":38,"s":"2023","v":1.178},{"x":40,"s":"2023","v":1.168},{"x":42,"s":"2023","v":1.189},{"x":44,"s":"2023","v":1.178},{"x":46,"s":"2023","v":1.158},{"x":48,"s":"2023","v":1.163},{"x":49,"s":"2023","v":1.158},{"x":50,"s":"2023","v":1.184},{"x":51,"s":"2023","v":1.194},{"x":54,"s":"2023","v":1.189},{"x":56,"s":"2023","v":1.173},{"x":57,"s":"2023","v":1.153},{"x":59,"s":"2023","v":1.168},{"x":61,"s":"2023","v":1.153},{"x":62,"s":"2023","v":1.148},{"x":64,"s":"2023","v":1.127},{"x":66,"s":"2023","v":1.142},{"x":68,"s":"2023","v":1.142},{"x":70,"s":"2023","v":1.132},{"x":71,"s":"2023","v":1.118},{"x":72,"s":"2023","v":1.088},{"x":74,"s":"2023","v":1.06},{"x":76,"s":"2023","v":1.074},{"x":77,"s":"2023","v":1.108},{"x":78,"s":"2023","v":1.127},{"x":80,"s":"2023","v":1.122},{"x":82,"s":"2023","v":1.103},{"x":83,"s":"2023","v":1.118},{"x":84,"s":"2023","v":1.132},{"x":86,"s":"2023","v":1.132},{"x":88,"s":"2023","v":1.158},{"x":89,"s":"2023","v":1.168},{"x":91,"s":"2023","v":1.173},{"x":92,"s":"2023","v":1.178},{"x":94,"s":"2023","v":1.184},{"x":96,"s":"2023","v":1.178},{"x":98,"s":"2023","v":1.173},{"x":100,"s":"2023","v":1.194},{"x":101,"s":"2023","v":1.173},{"x":103,"s":"2023","v":1.184},{"x":105,"s":"2023","v":1.178},{"x":106,"s":"2023","v":1.199},{"x":109,"s":"2023","v":1.194},{"x":111,"s":"2023","v":1.184},{"x":112,"s":"2023","v":1.168},{"x":113,"s":"2023","v":1.153},{"x":114,"s":"2023","v":1.189},{"x":116,"s":"2023","v":1.221},{"x":118,"s":"2023","v":1.242},{"x":120,"s":"2023","v":1.248},{"x":122,"s":"2023","v":1.253},{"x":124,"s":"2023","v":1.253},{"x":126,"s":"2023","v":1.264},{"x":128,"s":"2023","v":1.276},{"x":130,"s":"2023","v":1.281},{"x":132,"s":"2023","v":1.264},{"x":134,"s":"2023","v":1.293},{"x":135,"s":"2023","v":1.304},{"x":137,"s":"2023","v":1.31},{"x":140,"s":"2023","v":1.31},{"x":142,"s":"2023","v":1.293},{"x":144,"s":"2023","v":1.281},{"x":146,"s":"2023","v":1.276},{"x":148,"s":"2023","v":1.281},{"x":150,"s":"2023","v":1.27},{"x":152,"s":"2023","v":1.293},{"x":154,"s":"2023","v":1.293},{"x":156,"s":"2023","v":1.27},{"x":157,"s":"2023","v":1.248},{"x":158,"s":"2023","v":1.304},{"x":160,"s":"2023","v":1.339},{"x":162,"s":"2023","v":1.345},{"x":164,"s":"2023","v":1.369},{"x":165,"s":"2023","v":1.351},{"x":167,"s":"2023","v":1.351},{"x":169,"s":"2023","v":1.345},{"x":171,"s":"2023","v":1.327},{"x":173,"s":"2023","v":1.351},{"x":175,"s":"2023","v":1.327},{"x":177,"s":"2023","v":1.351},{"x":179,"s":"2023","v":1.345},{"x":181,"s":"2023","v":1.369},{"x":183,"s":"2023","v":1.351},{"x":185,"s":"2023","v":1.351},{"x":187,"s":"2023","v":1.333},{"x":189,"s":"2023","v":1.333},{"x":190,"s":"2023","v":1.316},{"x":192,"s":"2023","v":1.304},{"x":193,"s":"2023","v":1.27},{"x":194,"s":"2023","v":1.327},{"x":196,"s":"2023","v":1.363},{"x":198,"s":"2023","v":1.381},{"x":199,"s":"2023","v":1.393},{"x":201,"s":"2023","v":1.418},{"x":203,"s":"2023","v":1.437},{"x":205,"s":"2023","v":1.437},{"x":207,"s":"2023","v":1.45},{"x":209,"s":"2023","v":1.456},{"x":210,"s":"2023","v":1.462},{"x":212,"s":"2023","v":1.489},{"x":214,"s":"2023","v":1.476},{"x":216,"s":"2023","v":1.482},{"x":218,"s":"2023","v":1.502},{"x":220,"s":"2023","v":1.489},{"x":222,"s":"2023","v":1.502},{"x":224,"s":"2023","v":1.495},{"x":225,"s":"2023","v":1.495},{"x":226,"s":"2023","v":1.45},{"x":228,"s":"2023","v":1.476},{"x":230,"s":"2023","v":1.482},{"x":233,"s":"2023","v":1.482},{"x":235,"s":"2023","v":1.482},{"x":236,"s":"2023","v":1.45},{"x":238,"s":"2023","v":1.424},{"x":240,"s":"2023","v":1.462},{"x":241,"s":"2023","v":1.502},
{"x":0,"s":"2024","v":1.023},{"x":2,"s":"2024","v":1.019},{"x":3,"s":"2024","v":1.005},{"x":5,"s":"2024","v":0.996},{"x":6,"s":"2024","v":1.005},{"x":8,"s":"2024","v":1.01},{"x":9,"s":"2024","v":1.005},{"x":10,"s":"2024","v":0.996},{"x":11,"s":"2024","v":0.979},{"x":13,"s":"2024","v":0.945},{"x":14,"s":"2024","v":0.896},{"x":15,"s":"2024","v":0.854},{"x":17,"s":"2024","v":0.881},{"x":18,"s":"2024","v":0.912},{"x":19,"s":"2024","v":0.889},{"x":20,"s":"2024","v":0.835},{"x":22,"s":"2024","v":0.778},{"x":23,"s":"2024","v":0.758},{"x":24,"s":"2024","v":0.676},{"x":25,"s":"2024","v":0.624},{"x":26,"s":"2024","v":0.597},{"x":27,"s":"2024","v":0.542},{"x":28,"s":"2024","v":0.613},{"x":29,"s":"2024","v":0.641},{"x":30,"s":"2024","v":0.658},{"x":31,"s":"2024","v":0.688},{"x":32,"s":"2024","v":0.725},{"x":33,"s":"2024","v":0.765},{"x":34,"s":"2024","v":0.799},{"x":35,"s":"2024","v":0.725},{"x":36,"s":"2024","v":0.725},{"x":37,"s":"2024","v":0.765},{"x":39,"s":"2024","v":0.758},{"x":40,"s":"2024","v":0.738},{"x":41,"s":"2024","v":0.758},{"x":43,"s":"2024","v":0.765},{"x":45,"s":"2024","v":0.799},{"x":47,"s":"2024","v":0.806},{"x":48,"s":"2024","v":0.843},{"x":50,"s":"2024","v":0.858},{"x":51,"s":"2024","v":0.873},{"x":53,"s":"2024","v":0.843},{"x":54,"s":"2024","v":0.835},{"x":55,"s":"2024","v":0.814},{"x":57,"s":"2024","v":0.858},{"x":59,"s":"2024","v":0.881},{"x":61,"s":"2024","v":0.858},{"x":62,"s":"2024","v":0.835},{"x":63,"s":"2024","v":0.843},{"x":64,"s":"2024","v":0.828},{"x":65,"s":"2024","v":0.828},{"x":66,"s":"2024","v":0.752},{"x":67,"s":"2024","v":0.676},{"x":68,"s":"2024","v":0.738},{"x":70,"s":"2024","v":0.725},{"x":71,"s":"2024","v":0.716},{"x":72,"s":"2024","v":0.745},{"x":74,"s":"2024","v":0.765},{"x":75,"s":"2024","v":0.778},{"x":76,"s":"2024","v":0.814},{"x":78,"s":"2024","v":0.835},{"x":80,"s":"2024","v":0.847},{"x":81,"s":"2024","v":0.839},{"x":82,"s":"2024","v":0.85},{"x":84,"s":"2024","v":0.81},{"x":85,"s":"2024","v":0.828},{"x":86,"s":"2024","v":0.835},{"x":88,"s":"2024","v":0.858},{"x":90,"s":"2024","v":0.843},{"x":91,"s":"2024","v":0.828},{"x":92,"s":"2024","v":0.817},{"x":94,"s":"2024","v":0.821},{"x":95,"s":"2024","v":0.81},{"x":97,"s":"2024","v":0.817},{"x":98,"s":"2024","v":0.792},{"x":100,"s":"2024","v":0.758},{"x":101,"s":"2024","v":0.697},{"x":102,"s":"2024","v":0.732},{"x":104,"s":"2024","v":0.745},{"x":106,"s":"2024","v":0.752},{"x":107,"s":"2024","v":0.742},{"x":109,"s":"2024","v":0.765},{"x":111,"s":"2024","v":0.752},{"x":112,"s":"2024","v":0.719},{"x":114,"s":"2024","v":0.752},{"x":116,"s":"2024","v":0.745},{"x":117,"s":"2024","v":0.752},{"x":118,"s":"2024","v":0.765},{"x":120,"s":"2024","v":0.752},{"x":121,"s":"2024","v":0.735},{"x":122,"s":"2024","v":0.725},{"x":123,"s":"2024","v":0.732},{"x":124,"s":"2024","v":0.719},{"x":126,"s":"2024","v":0.748},{"x":128,"s":"2024","v":0.732},{"x":130,"s":"2024","v":0.719},{"x":132,"s":"2024","v":0.732},{"x":134,"s":"2024","v":0.713},{"x":135,"s":"2024","v":0.732},{"x":137,"s":"2024","v":0.745},{"x":138,"s":"2024","v":0.755},{"x":139,"s":"2024","v":0.765},{"x":141,"s":"2024","v":0.778},{"x":142,"s":"2024","v":0.752},{"x":144,"s":"2024","v":0.775},{"x":145,"s":"2024","v":0.775},{"x":147,"s":"2024","v":0.768},{"x":149,"s":"2024","v":0.778},{"x":150,"s":"2024","v":0.785},{"x":152,"s":"2024","v":0.778},{"x":153,"s":"2024","v":0.762},{"x":155,"s":"2024","v":0.752},{"x":156,"s":"2024","v":0.738},{"x":158,"s":"2024","v":0.755},{"x":159,"s":"2024","v":0.758},{"x":161,"s":"2024","v":0.782},{"x":162,"s":"2024","v":0.778},{"x":164,"s":"2024","v":0.778},{"x":165,"s":"2024","v":0.782},{"x":166,"s":"2024","v":0.762},{"x":168,"s":"2024","v":0.778},{"x":170,"s":"2024","v":0.775},{"x":171,"s":"2024","v":0.768},{"x":172,"s":"2024","v":0.758},{"x":174,"s":"2024","v":0.778},{"x":175,"s":"2024","v":0.775},{"x":176,"s":"2024","v":0.799},{"x":177,"s":"2024","v":0.828},{"x":178,"s":"2024","v":0.85},{"x":179,"s":"2024","v":0.889},{"x":180,"s":"2024","v":0.962},{"x":181,"s":"2024","v":1.051},{"x":182,"s":"2024","v":0.988},{"x":183,"s":"2024","v":0.945},{"x":184,"s":"2024","v":0.958},{"x":185,"s":"2024","v":0.937},{"x":186,"s":"2024","v":0.962},{"x":187,"s":"2024","v":0.953},{"x":189,"s":"2024","v":0.979},{"x":190,"s":"2024","v":1.001},{"x":192,"s":"2024","v":1.023},{"x":194,"s":"2024","v":1.032},{"x":195,"s":"2024","v":1.079},{"x":196,"s":"2024","v":1.108},{"x":197,"s":"2024","v":1.079},{"x":198,"s":"2024","v":1.069},{"x":199,"s":"2024","v":1.088},{"x":200,"s":"2024","v":1.051},{"x":201,"s":"2024","v":1.069},{"x":202,"s":"2024","v":1.103},{"x":204,"s":"2024","v":1.127},{"x":205,"s":"2024","v":1.158},{"x":206,"s":"2024","v":1.173},{"x":207,"s":"2024","v":1.178},{"x":208,"s":"2024","v":1.137},{"x":210,"s":"2024","v":1.098},{"x":211,"s":"2024","v":1.127},{"x":213,"s":"2024","v":1.158},{"x":214,"s":"2024","v":1.122},{"x":215,"s":"2024","v":1.153},{"x":217,"s":"2024","v":1.163},{"x":219,"s":"2024","v":1.194},{"x":221,"s":"2024","v":1.221},{"x":222,"s":"2024","v":1.215},{"x":223,"s":"2024","v":1.237},{"x":225,"s":"2024","v":1.253},{"x":227,"s":"2024","v":1.293},{"x":229,"s":"2024","v":1.281},{"x":230,"s":"2024","v":1.21},{"x":232,"s":"2024","v":1.21},{"x":234,"s":"2024","v":1.221},{"x":235,"s":"2024","v":1.148},{"x":237,"s":"2024","v":1.108},{"x":238,"s":"2024","v":1.142},{"x":240,"s":"2024","v":1.118},{"x":241,"s":"2024","v":1.103},
{"x":0,"s":"2025","v":1.0},{"x":1,"s":"2025","v":0.937},{"x":2,"s":"2025","v":0.962},{"x":3,"s":"2025","v":0.975},{"x":4,"s":"2025","v":0.971},{"x":5,"s":"2025","v":0.966},{"x":6,"s":"2025","v":0.949},{"x":7,"s":"2025","v":0.979},{"x":8,"s":"2025","v":1.005},{"x":9,"s":"2025","v":1.01},{"x":11,"s":"2025","v":1.014},{"x":12,"s":"2025","v":1.023},{"x":13,"s":"2025","v":1.032},{"x":15,"s":"2025","v":1.028},{"x":16,"s":"2025","v":1.023},{"x":18,"s":"2025","v":1.032},{"x":19,"s":"2025","v":1.055},{"x":21,"s":"2025","v":1.079},{"x":22,"s":"2025","v":1.093},{"x":24,"s":"2025","v":1.093},{"x":25,"s":"2025","v":1.083},{"x":26,"s":"2025","v":1.108},{"x":28,"s":"2025","v":1.079},{"x":29,"s":"2025","v":1.108},{"x":30,"s":"2025","v":1.122},{"x":31,"s":"2025","v":1.113},{"x":32,"s":"2025","v":1.132},{"x":34,"s":"2025","v":1.13},{"x":35,"s":"2025","v":1.108},{"x":36,"s":"2025","v":1.118},{"x":38,"s":"2025","v":1.137},{"x":40,"s":"2025","v":1.148},{"x":41,"s":"2025","v":1.163},{"x":43,"s":"2025","v":1.168},{"x":44,"s":"2025","v":1.178},{"x":45,"s":"2025","v":1.178},{"x":47,"s":"2025","v":1.199},{"x":48,"s":"2025","v":1.21},{"x":49,"s":"2025","v":1.199},{"x":50,"s":"2025","v":1.189}
]},
"mark": {"type": "line", "strokeWidth": 4.5, "strokeJoin": "round", "strokeCap": "round"},
"encoding": {
"x": {"field": "x", "type": "quantitative", "scale": {"domain": [0, 243], "nice": false, "zero": false},
 "axis": {"values": [0,6,12,18,24,30,36,42,48,54,60,66,72,78,84,90,96,102,108,114,120,126,132,138,144,150,156,162,168,174,180,186,192,198,204,210,216,222,228,234,240],
 "labelAngle": -90, "labelFontSize": 18, "labelColor": "#595959", "labelPadding": 15, "ticks": false, "domain": false, "grid": false, "title": null, "offset": -261, "labelFlush": false, "labelOverlap": false, "labelFont": "Liberation Sans"}},
"y": {"field": "v", "type": "quantitative", "scale": {"type": "log", "domain": [0.5, 2], "nice": false},
 "axis": {"values": [0.5, 1, 2], "format": "~g", "grid": true, "gridColor": "#d9d9d9", "gridWidth": 1.5, "domain": false, "ticks": false, "labelFontSize": 18, "labelColor": "#595959", "labelPadding": 21, "title": null, "labelFont": "Liberation Sans"}},
"color": {"field": "s", "type": "nominal",
 "scale": {"domain": ["2016","2017","2018","2019","2020","2021","2022","2023","2024","2025"], "range": ["#5B9BD5","#ED7D31","#A5A5A5","#FFC000","#4472C4","#70AD47","#255E91","#9E480E","#636363","#997300"]},
 "legend": {"orient": "none", "legendX": 217, "legendY": -18, "direction": "horizontal", "columns": 5, "title": null, "symbolType": "stroke", "symbolSize": 2300, "symbolStrokeWidth": 4.5, "labelFontSize": 18, "labelColor": "#595959", "labelOffset": 4, "columnPadding": -4.5, "rowPadding": 4.4, "padding": 0, "labelFont": "Liberation Sans"}}
}
}
